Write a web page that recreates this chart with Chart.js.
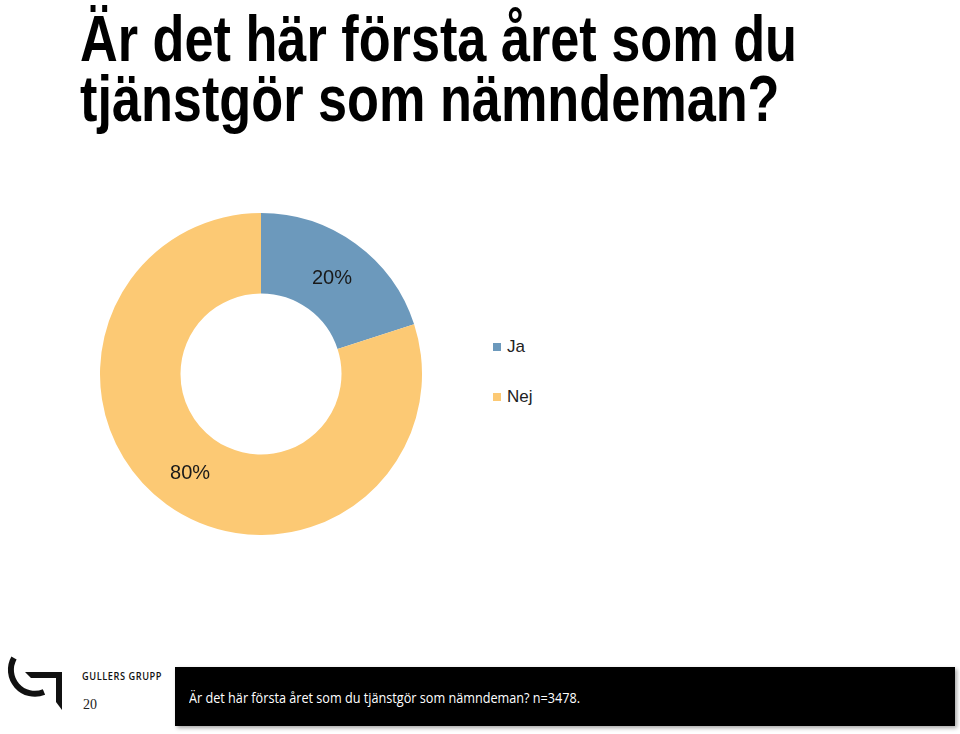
<!DOCTYPE html>
<html lang="sv">
<head>
<meta charset="utf-8">
<title>Är det här första året som du tjänstgör som nämndeman?</title>
<script src="https://cdn.jsdelivr.net/npm/chart.js@4.4.1/dist/chart.umd.min.js"></script>
<style>
  html, body { margin: 0; padding: 0; background: #fff; }
  body { width: 960px; height: 734px; position: relative; overflow: hidden; font-family: "Liberation Sans", Arial, sans-serif; }
  .title {
    position: absolute; left: 80px; top: 9px; margin: 0;
    font-family: "Liberation Sans Narrow", "Liberation Sans", Arial, sans-serif;
    font-weight: bold; font-size: 64px; line-height: 60px; color: #000;
    white-space: pre; transform-origin: 0 0;
  }
  #chartWrap { position: absolute; left: 100px; top: 213px; width: 322px; height: 322px; }
  #legend { position: absolute; left: 493px; top: 331px; }
  .legend-item { position: relative; height: 50px; font-size: 17px; color: #222; }
  .legend-box { position: absolute; left: 0; top: 12px; width: 8px; height: 8px; }
  .legend-text { position: absolute; left: 14px; top: 6px; line-height: 20px; }
  #logo { position: absolute; left: 0; top: 652px; }
  .brand { position: absolute; left: 82px; top: 669px; font-size: 10px; letter-spacing: 0.6px; color: #111; font-family: "Open Sans", "Liberation Sans", sans-serif; font-weight: 600; white-space: nowrap; transform-origin: 0 0; }
  .page { position: absolute; left: 83px; top: 697px; font-family: "Liberation Serif", serif; font-size: 14px; color: #222; }
  .note {
    position: absolute; left: 175px; top: 667px; width: 780px; height: 59px;
    background: #000; box-shadow: 2px 2px 4px rgba(0,0,0,0.35);
  }
  .note span { position: absolute; left: 14px; top: 20px; color: #fff; font-size: 15px; font-family: "Open Sans", "Liberation Sans", sans-serif; white-space: nowrap; transform-origin: 0 0; }
</style>
</head>
<body>
<h1 class="title" id="title">Är det här första året som du
tjänstgör som nämndeman?</h1>

<div id="chartWrap"><canvas id="donut"></canvas></div>
<div id="legend"></div>

<svg id="logo" width="70" height="62" viewBox="0 0 70 62">
  <path d="M14 6 A 24 24 0 0 0 44 40" fill="none" stroke="#111" stroke-width="6"/>
  <path d="M25 20 L62 20 L62 58 L56 50 L56 26 L31 26 Z" fill="#111"/>
</svg>
<div class="brand" id="brand">GULLERS GRUPP</div>
<div class="page">20</div>
<div class="note"><span id="noteText">Är det här första året som du tjänstgör som nämndeman? n=3478.</span></div>

<script>
const labels = ['Ja', 'Nej'];
const values = [20, 80];
const colors = ['#6c99bc', '#fcc974'];

// squeeze text into the width it takes in the picture
function fitWidth(id, width) {
  const el = document.getElementById(id);
  const w = el.getBoundingClientRect().width;
  el.style.transform = 'scaleX(' + (width / w) + ')';
}
fitWidth('title', 717);
fitWidth('brand', 80);
fitWidth('noteText', 391);

const sliceLabels = {
  id: 'sliceLabels',
  afterDatasetsDraw(chart) {
    const ctx = chart.ctx;
    const meta = chart.getDatasetMeta(0);
    ctx.save();
    ctx.font = '20px "Liberation Sans", Arial, sans-serif';
    ctx.fillStyle = '#1a1a1a';
    ctx.textAlign = 'center';
    ctx.textBaseline = 'middle';
    meta.data.forEach((arc, i) => {
      const p = arc.tooltipPosition();
      ctx.fillText(values[i] + '%', p.x, p.y + 2);
    });
    ctx.restore();
  }
};

const chart = new Chart(document.getElementById('donut'), {
  type: 'doughnut',
  data: {
    labels,
    datasets: [{
      data: values,
      backgroundColor: colors,
      borderWidth: 0,
      hoverOffset: 0,
    }]
  },
  options: {
    responsive: true,
    maintainAspectRatio: false,
    animation: false,
    cutout: '50%',
    layout: { padding: 0 },
    plugins: {
      legend: { display: false },
      tooltip: { enabled: false }
    }
  },
  plugins: [sliceLabels]
});

const items = chart.options.plugins.legend.labels.generateLabels(chart);
document.getElementById('legend').innerHTML = items.map(it => `
  <div class="legend-item">
    <span class="legend-box" style="background:${it.fillStyle}"></span>
    <span class="legend-text">${it.text}</span>
  </div>
`).join('');
</script>
</body>
</html>
